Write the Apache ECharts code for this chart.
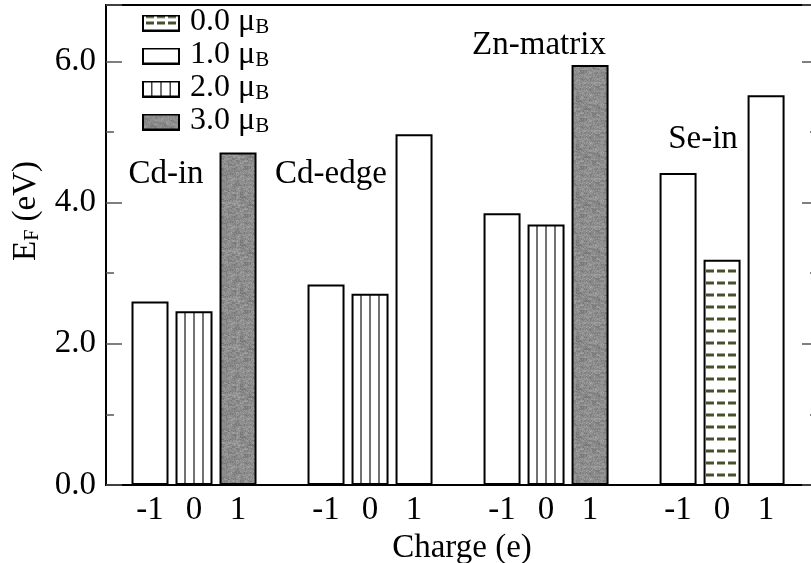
<!DOCTYPE html>
<html>
<head>
<meta charset="utf-8">
<script src="https://cdn.jsdelivr.net/npm/echarts@6/dist/echarts.min.js"></script>
<style>
  html, body { margin: 0; padding: 0; background: #fff; }
  #chart { width: 811px; height: 563px; }
</style>
</head>
<body>
<div id="chart"></div>
<script>
// data
const groupNames = ['Cd-in', 'Cd-edge', 'Zn-matrix', 'Se-in'];
const chargeLabels = ['-1', '0', '1'];
const fermiEnergy = [
    [2.60, 2.46, 4.71],
    [2.84, 2.71, 4.97],
    [3.85, 3.69, 5.95],
    [4.42, 3.19, 5.52]
];
const magMoment = [
    [1, 2, 3],
    [1, 2, 1],
    [1, 2, 3],
    [1, 0, 1]
];
const momentLabels = ['0.0', '1.0', '2.0', '3.0'];

const FONT = '"Liberation Serif", "Times New Roman", serif';

let makeCanvas = (w, h) => {
    const c = document.createElement('canvas');
    c.width = w;
    c.height = h;
    return c;
}

// little deterministic grain for the grey fill
let grain = (i, j) => {
    let s = Math.sin(i * 12.9898 + j * 78.233) * 43758.5453;
    return s - Math.floor(s);
}

const greyTile = makeCanvas(48, 48);
(() => {
    const ctx = greyTile.getContext('2d');
    const img = ctx.createImageData(48, 48);
    for (let j = 0; j < 48; j++) {
        for (let i = 0; i < 48; i++) {
            let v = 140 + Math.round((grain(i, j) - 0.5) * 30 + (grain(i >> 2, j >> 1) - 0.5) * 22);
            let k = (j * 48 + i) * 4;
            img.data[k] = v; img.data[k + 1] = v; img.data[k + 2] = v; img.data[k + 3] = 255;
        }
    }
    ctx.putImageData(img, 0, 0);
})();

// vertical stripes, period = 4 slots of 44px so every bar looks the same
const stripeTile = makeCanvas(44, 4);
(() => {
    const ctx = stripeTile.getContext('2d');
    ctx.fillStyle = '#fff';
    ctx.fillRect(0, 0, 44, 4);
    ctx.fillStyle = '#444';
    [8.25, 17.25, 26.25].forEach(x => ctx.fillRect(x, 0, 1.5, 4));
})();

const dashTile = makeCanvas(44, 12);
(() => {
    const ctx = dashTile.getContext('2d');
    ctx.fillStyle = '#fff';
    ctx.fillRect(0, 0, 44, 12);
    ctx.fillStyle = '#46502f';
    [2, 13, 24].forEach(x => ctx.fillRect(x, 5.5, 8, 3));
})();

const fills = [
    { image: dashTile, repeat: 'repeat' },
    '#ffffff',
    { image: stripeTile, repeat: 'repeat' },
    { image: greyTile, repeat: 'repeat' }
];

// legend icons
let legendIcon = (m) => {
    const c = makeCanvas(38, 17);
    const ctx = c.getContext('2d');
    ctx.fillStyle = '#fff';
    ctx.fillRect(0, 0, 38, 17);
    if (m == 0) {
        ctx.fillStyle = '#46502f';
        [4, 15, 26].forEach(x => ctx.fillRect(x, 7, 8, 3));
        [4, 15, 26].forEach(x => ctx.fillRect(x, 1.5, 8, 2));
    } else if (m == 2) {
        ctx.fillStyle = '#444';
        [9, 18.25, 27.5].forEach(x => ctx.fillRect(x, 0, 1.5, 17));
    } else if (m == 3) {
        ctx.drawImage(greyTile, 0, 0);
    }
    ctx.strokeStyle = '#000';
    ctx.lineWidth = 2;
    ctx.strokeRect(1, 1, 36, 15);
    return 'image://' + c.toDataURL();
}

const dom = document.getElementById('chart');
const chart = echarts.init(dom, null, { renderer: 'canvas' });

let series = momentLabels.map((lbl, m) => {
    let data = [];
    fermiEnergy.forEach((row, g) => {
        row.forEach((v, c) => {
            if (magMoment[g][c] == m) data.push([g * 4 + c, v]);
        })
    })
    return {
        name: lbl,
        type: 'bar',
        data: data,
        barWidth: 37,
        barGap: '-100%',
        itemStyle: {
            color: fills[m],
            borderColor: '#000',
            borderWidth: 2
        },
        emphasis: { disabled: true },
        animation: false
    }
});

let yAx = (pos, interval, len, labels) => ({
    type: 'value',
    position: pos,
    min: 0,
    max: 6.8,
    interval: interval,
    axisLine: { show: pos == 'left' && labels, onZero: false, lineStyle: { color: '#000', width: 2 } },
    axisTick: { show: true, inside: true, length: len, lineStyle: { color: '#555', width: 1.5 } },
    axisLabel: {
        show: labels,
        margin: 10,
        color: '#000',
        fontFamily: FONT,
        fontSize: 33,
        formatter: v => (Number.isInteger(v) && v % 2 == 0) ? v.toFixed(1) : ''
    },
    splitLine: { show: false }
});

const richSub = (big, small) => ({
    a: { fontFamily: FONT, fontSize: big, color: '#000', verticalAlign: 'bottom', lineHeight: 30 },
    b: { fontFamily: FONT, fontSize: small, color: '#000', verticalAlign: 'bottom', lineHeight: 30 }
});

const option = {
    animation: false,
    grid: {
        left: 106,
        top: 5,
        width: 712,
        height: 480,
        show: true,
        borderColor: '#000',
        borderWidth: 2,
        containLabel: false,
        outerBoundsMode: 'none'
    },
    legend: {
        orient: 'vertical',
        left: 142,
        top: 6,
        padding: 0,
        itemWidth: 38,
        itemHeight: 17,
        itemGap: 1,
        selectedMode: false,
        data: momentLabels.map((l, m) => ({ name: l, icon: legendIcon(m) })),
        formatter: n => `{a|${n} μ}{b|B}`,
        textStyle: {
            padding: [0, 0, 0, 5],
            rich: richSub(32, 21)
        }
    },
    xAxis: {
        type: 'value',
        min: -1,
        max: 15.18,
        interval: 1,
        axisLine: { onZero: false, lineStyle: { color: '#000', width: 2 } },
        axisTick: { show: false },
        splitLine: { show: false },
        axisLabel: {
            margin: 9,
            color: '#000',
            fontFamily: FONT,
            fontSize: 33,
            showMaxLabel: false,
            formatter: v => (Number.isInteger(v) && v >= 0 && v % 4 != 3) ? chargeLabels[v % 4] : ''
        },
        name: 'Charge (e)',
        nameLocation: 'middle',
        nameGap: 38,
        nameTextStyle: { color: '#000', fontFamily: FONT, fontSize: 33 }
    },
    yAxis: [
        yAx('left', 1, 8, true),
        yAx('left', 2, 16, false),
        yAx('right', 1, 8, false),
        yAx('right', 2, 16, false)
    ],
    series: series,
    graphic: [
        { type: 'text', x: 166, y: 174, style: { text: groupNames[0], font: '33px ' + FONT, fill: '#000', align: 'center', verticalAlign: 'middle' } },
        { type: 'text', x: 331, y: 174, style: { text: groupNames[1], font: '33px ' + FONT, fill: '#000', align: 'center', verticalAlign: 'middle' } },
        { type: 'text', x: 539, y: 45, style: { text: groupNames[2], font: '33px ' + FONT, fill: '#000', align: 'center', verticalAlign: 'middle' } },
        { type: 'text', x: 703, y: 139, style: { text: groupNames[3], font: '33px ' + FONT, fill: '#000', align: 'center', verticalAlign: 'middle' } },
        {
            type: 'text', x: 28, y: 211, rotation: Math.PI / 2,
            style: {
                text: '{a|E}{b|F}{a| (eV)}',
                rich: richSub(33, 20),
                align: 'center',
                verticalAlign: 'middle'
            }
        }
    ]
};

chart.setOption(option);
window.addEventListener('resize', chart.resize);
</script>
</body>
</html>
